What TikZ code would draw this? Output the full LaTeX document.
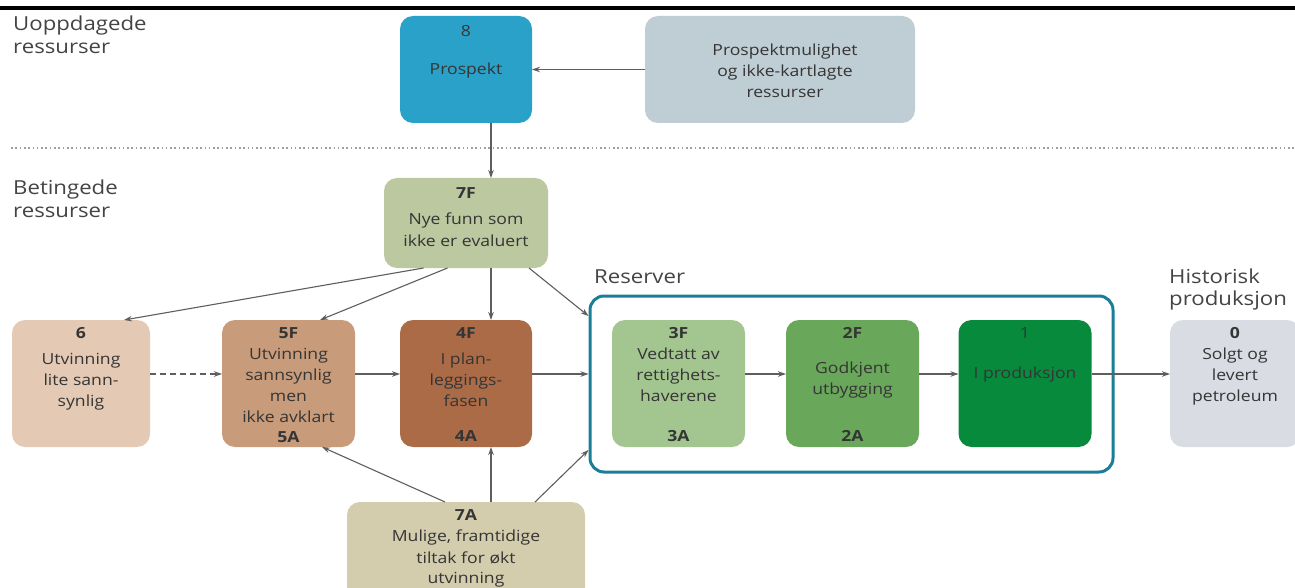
\documentclass[tikz,border=0pt]{standalone}
\usepackage{fontspec}
\setmainfont{Open Sans}[FakeStretch=1.15]
\usetikzlibrary{arrows.meta,calc}
\definecolor{cEight}{HTML}{29A1C9}
\definecolor{cPm}{HTML}{BFCDD4}
\definecolor{cSevF}{HTML}{BCC8A0}
\definecolor{cSix}{HTML}{E4CAB5}
\definecolor{cFiveF}{HTML}{C89B7B}
\definecolor{cFourF}{HTML}{AB6B46}
\definecolor{cThreeF}{HTML}{A3C58F}
\definecolor{cTwoF}{HTML}{69A75B}
\definecolor{cOne}{HTML}{078A3B}
\definecolor{cZero}{HTML}{D9DCE3}
\definecolor{cSevA}{HTML}{D3CDAE}
\definecolor{cFrame}{HTML}{1B7E98}
\definecolor{txtc}{HTML}{353535}
\definecolor{headc}{HTML}{444444}
\definecolor{arrc}{HTML}{5E5E5E}
\definecolor{dotc}{HTML}{A0A0A0}
\begin{document}
\begin{tikzpicture}[x=1pt,y=-1pt,
  box/.style={rounded corners=13pt, inner sep=0pt, outer sep=0pt, draw=none},
  txt/.style={text=txtc, font=\fontsize{15.3}{18}\selectfont, inner sep=0pt, anchor=base},
  num/.style={txt, font=\fontsize{15.3}{18}\selectfont\bfseries},
  head/.style={text=headc, font=\fontsize{19.3}{22}\selectfont, inner sep=0pt, anchor=base west},
  arr/.style={draw=arrc, line width=1.1pt, -{Stealth[length=8pt,width=5.5pt]}}
]
\path[fill=white] (0,0) rectangle (1295,588);
\useasboundingbox (0,0) rectangle (1295,588);

% top rule and dotted separator
\coordinate (ruleL) at (0,8);
\coordinate (ruleR) at (1295,8);
\draw[line width=3.5pt, black] (ruleL) -- (ruleR);
\coordinate (dotL) at (11,148);
\coordinate (dotR) at (1295,148);
\draw[dotc, line width=2pt, dash pattern=on 1.6pt off 2.7pt] (dotL) -- (dotR);

% headings
\node[head] (h1a) at (13,30.7) {Uoppdagede};
\node[head] (h1b) at (13,53.3) {ressurser};
\node[head] (h2a) at (13,194) {Betingede};
\node[head] (h2b) at (13,217) {ressurser};
\node[head] (h3) at (594,283) {Reserver};
\node[head] (h4a) at (1169,283) {Historisk};
\node[head] (h4b) at (1169,305) {produksjon};

% boxes
\node[box, fill=cEight, minimum width=132pt, minimum height=107pt] (p8) at (466,69.5) {};
\node[box, fill=cPm, minimum width=270pt, minimum height=107pt] (pm) at (780,69.5) {};
\node[box, fill=cSevF, minimum width=164pt, minimum height=90pt] (f7) at (466,223) {};
\node[box, fill=cSix, minimum width=138pt, minimum height=127pt] (b6) at (81,383.5) {};
\node[box, fill=cFiveF, minimum width=133pt, minimum height=127pt] (b5) at (288.5,383.5) {};
\node[box, fill=cFourF, minimum width=132pt, minimum height=127pt] (b4) at (466,383.5) {};
\node[draw=cFrame, line width=3pt, rounded corners=14pt, inner sep=0pt, minimum width=523pt, minimum height=176pt] (frame) at (851.5,384) {};
\node[box, fill=cThreeF, minimum width=133pt, minimum height=127pt] (b3) at (678.5,383.5) {};
\node[box, fill=cTwoF, minimum width=133pt, minimum height=127pt] (b2) at (852.5,383.5) {};
\node[box, fill=cOne, minimum width=133pt, minimum height=127pt] (b1) at (1025,383.5) {};
\node[box, fill=cZero, minimum width=130pt, minimum height=127pt] (b0) at (1235,383.5) {};
\node[box, fill=cSevA, minimum width=238pt, minimum height=98pt] (a7) at (466,551) {};

% texts
\node[txt] (t8n) at (466,37) {8};
\node[txt] (t8a) at (466,75) {Prospekt};
\node[txt] (tpm1) at (785,55.7) {Prospektmulighet};
\node[txt] (tpm2) at (785,76.5) {og ikke-kartlagte};
\node[txt] (tpm3) at (785,97.3) {ressurser};
\node[num] (t7fn) at (466,198) {7F};
\node[txt] (t7f1) at (466,225) {Nye funn som};
\node[txt] (t7f2) at (466,246.5) {ikke er evaluert};
\node[num] (t6n) at (81,338) {6};
\node[txt] (t61) at (81,364.5) {Utvinning};
\node[txt] (t62) at (81,385.5) {lite sann-};
\node[txt] (t63) at (81,406) {synlig};
\node[num] (t5n) at (288.5,338) {5F};
\node[txt] (t51) at (288.5,359.5) {Utvinning};
\node[txt] (t52) at (288.5,380.5) {sannsynlig};
\node[txt] (t53) at (288.5,401.5) {men};
\node[txt] (t54) at (288.5,422.5) {ikke avklart};
\node[num] (t5a) at (288.5,442) {5A};
\node[num] (t4n) at (466,338) {4F};
\node[txt] (t41) at (466,364.5) {I plan-};
\node[txt] (t42) at (466,385.5) {leggings-};
\node[txt] (t43) at (466,406.5) {fasen};
\node[num] (t4a) at (466,441) {4A};
\node[num] (t3n) at (678.5,338) {3F};
\node[txt] (t31) at (678.5,359.5) {Vedtatt av};
\node[txt] (t32) at (678.5,380.5) {rettighets-};
\node[txt] (t33) at (678.5,401.5) {haverene};
\node[num] (t3a) at (678.5,441) {3A};
\node[num] (t2n) at (852.5,338) {2F};
\node[txt] (t21) at (852.5,373) {Godkjent};
\node[txt] (t22) at (852.5,394) {utbygging};
\node[num] (t2a) at (852.5,441) {2A};
\node[txt] (t1n) at (1025,338.5) {1};
\node[txt] (t11) at (1025,378) {I produksjon};
\node[num] (t0n) at (1235,338) {0};
\node[txt] (t01) at (1235,359.5) {Solgt og};
\node[txt] (t02) at (1235,380.5) {levert};
\node[txt] (t03) at (1235,401.5) {petroleum};
\node[num] (t7an) at (466,520) {7A};
\node[txt] (t7a1) at (466,541.7) {Mulige, framtidige};
\node[txt] (t7a2) at (466,563) {tiltak for økt};
\node[txt] (t7a3) at (466,583.5) {utvinning};

% connectors
\draw[arr] (pm.west) -- (p8.east);
\draw[arr] ([xshift=25pt]p8.south) -- ([xshift=25pt]f7.north);
\draw[arr] ([xshift=-42.5pt]f7.south) -- ([xshift=43pt]b6.north);
\draw[arr] ([xshift=-18.5pt]f7.south) -- ([xshift=31.5pt]b5.north);
\draw[arr] ([xshift=25pt]f7.south) -- ([xshift=25pt]b4.north);
\draw[arr] ([xshift=63pt]f7.south) -- ([yshift=68pt]frame.west);
\draw[arr, dashed, dash pattern=on 6pt off 4pt] ([yshift=9.5pt]b6.east) -- ([yshift=9.5pt]b5.west);
\draw[arr] ([yshift=9.5pt]b5.east) -- ([yshift=9.5pt]b4.west);
\draw[arr] ([yshift=9.5pt]b4.east) -- ([yshift=10pt]frame.west);
\draw[arr] ([yshift=9.5pt]b3.east) -- ([yshift=9.5pt]b2.west);
\draw[arr] ([yshift=9.5pt]b2.east) -- ([yshift=9.5pt]b1.west);
\draw[arr] ([yshift=9.5pt]b1.east) -- ([yshift=9.5pt]b0.west);
\draw[arr] ([xshift=-21pt]a7.north) -- ([xshift=33.5pt]b5.south);
\draw[arr] ([xshift=25pt]a7.north) -- ([xshift=25pt]b4.south);
\draw[arr] ([xshift=69pt]a7.north) -- ([yshift=-66pt]frame.west);
\end{tikzpicture}
\end{document}
